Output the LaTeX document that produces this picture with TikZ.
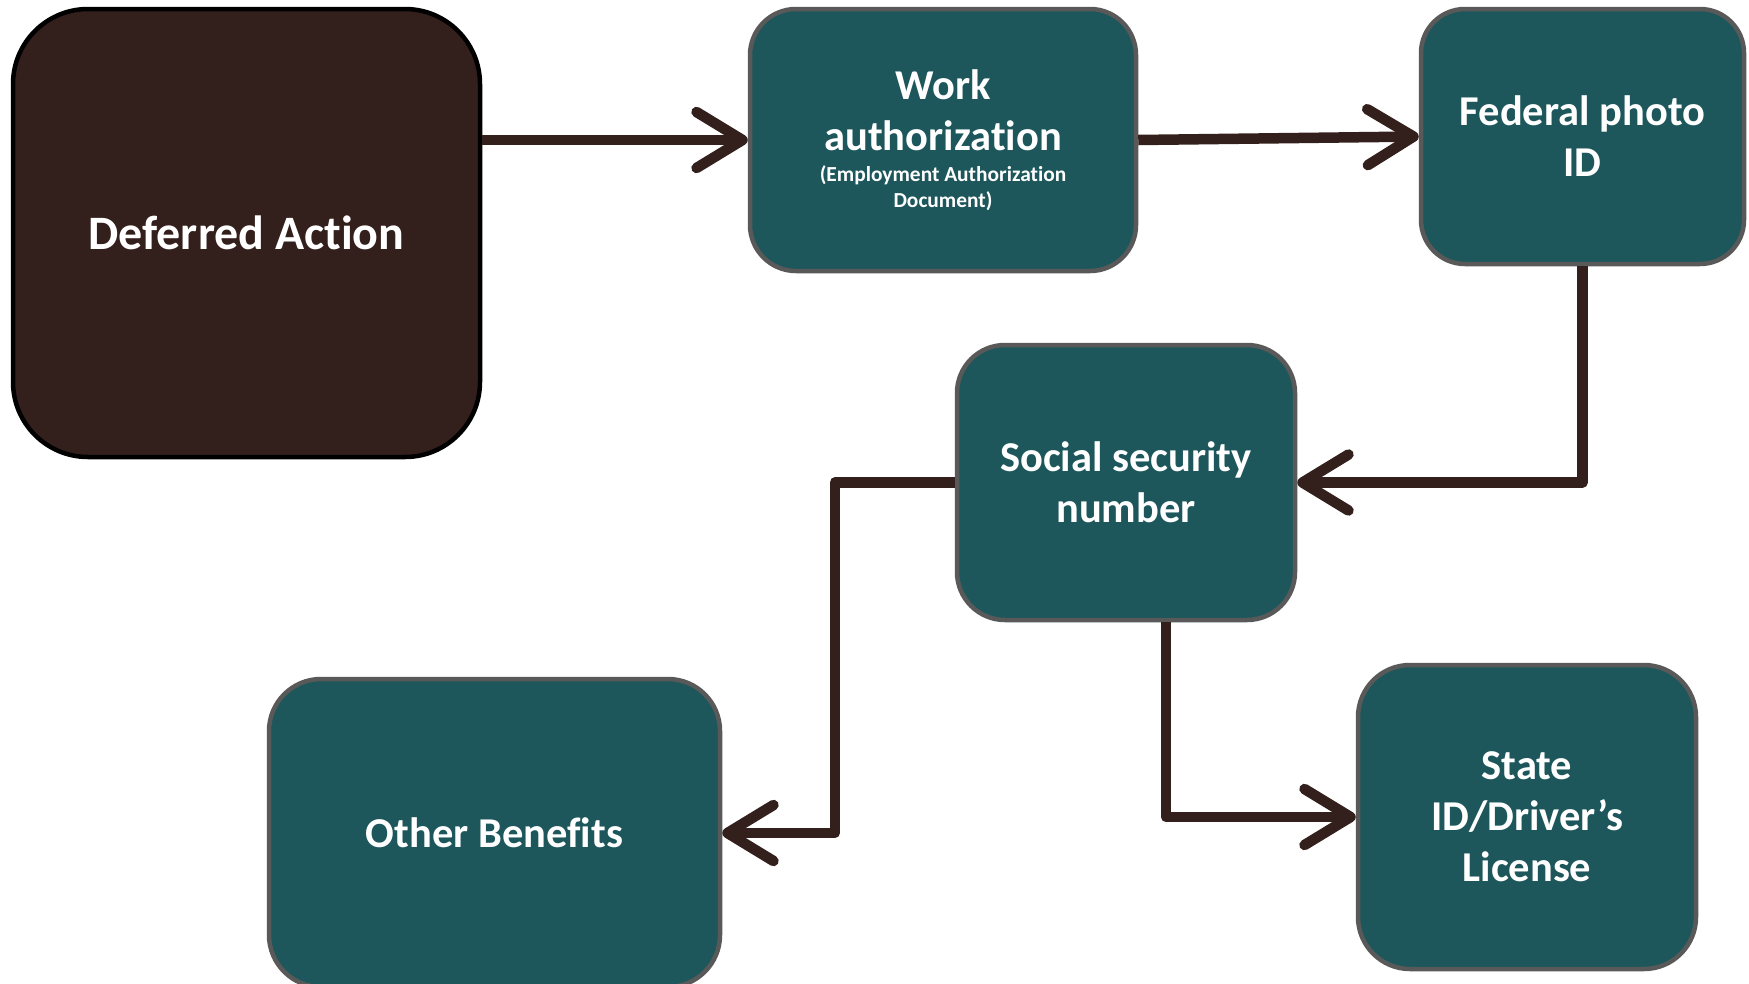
\documentclass[tikz,border=0pt]{standalone}
\usepackage{fontspec}
\setmainfont{Carlito}[Ligatures={NoCommon,NoContextual}]
\usepackage{tikz}
\usetikzlibrary{arrows.meta}

\definecolor{tealbox}{RGB}{29,87,92}
\definecolor{graybd}{RGB}{89,89,89}
\definecolor{darkbrown}{RGB}{51,32,28}

\begin{document}
\begin{tikzpicture}[x=1pt, y=-1pt,
  box/.style={draw=graybd, line width=4.5pt, fill=tealbox, text=white, align=center,
    font=\bfseries\fontsize{42.5}{51}\selectfont, inner sep=0pt},
  flow/.style={draw=darkbrown, line width=10.5pt, line join=round,
    -{Straight Barb[length=46pt, width=56pt, round]}}]
  \useasboundingbox (0,0) rectangle (1749,983);
  \node[box, draw=black, fill=darkbrown, minimum width=467pt, minimum height=448pt,
    rounded corners=75pt, font=\bfseries\fontsize{48}{56}\selectfont] (defer) at (246.5,233) {Deferred Action};
  \node[box, minimum width=386pt, minimum height=262pt, rounded corners=46pt] (work) at (943,140)
    {Work\\authorization\\[-20pt]{\fontsize{21.4}{26}\selectfont(Employment Authorization}\\[-25pt]{\fontsize{21.4}{26}\selectfont Document)}};
  \node[box, minimum width=323pt, minimum height=255pt, rounded corners=44pt] (fedid) at (1582.5,136.5) {Federal photo\\ID};
  \node[box, minimum width=338pt, minimum height=275pt, rounded corners=48pt] (ssn) at (1126,482.5) {Social security\\number};
  \node[box, minimum width=451pt, minimum height=308pt, rounded corners=52pt] (other) at (494.5,833) {Other Benefits};
  \node[box, minimum width=338pt, minimum height=304pt, rounded corners=52pt] (state) at (1527,817) {State\\ID/Driver’s\\License};
  \path
  (defer.east |- work.west) edge[flow] (work.west)
  (work.east) edge[flow] (fedid.west)
  (fedid.south) edge[flow, to path={|- (\tikztotarget)}] (ssn.east)
  (ssn.west) edge[flow, to path={-- ++(-120,0) |- (\tikztotarget)}] (other.east)
  ([xshift=40pt]ssn.south) edge[flow, to path={|- (\tikztotarget)}] (state.west)
  ;
\end{tikzpicture}
\end{document}
